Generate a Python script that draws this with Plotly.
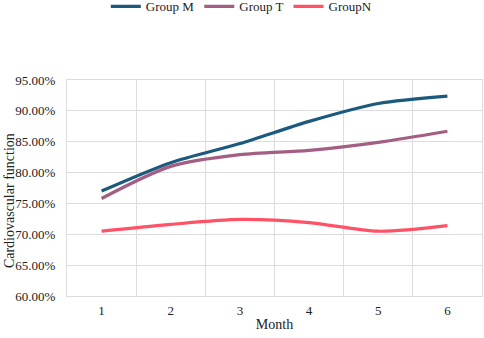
import plotly.graph_objects as go

months = ["1", "2", "3", "4", "5", "6"]
group_m = [0.770, 0.816, 0.847, 0.883, 0.912, 0.924]
group_t = [0.758, 0.810, 0.829, 0.836, 0.849, 0.867]
group_n = [0.705, 0.716, 0.724, 0.719, 0.705, 0.714]
y_ticks = [0.60, 0.65, 0.70, 0.75, 0.80, 0.85, 0.90, 0.95]

series = [
    ("Group M", group_m, "#1b5a7d"),
    ("Group T", group_t, "#a35f82"),
    ("GroupN", group_n, "#ff5266"),
]

fig = go.Figure()
for name, vals, color in series:
    fig.add_trace(go.Scatter(
        x=months, y=vals, name=name, mode="lines",
        line=dict(color=color, width=3.2, shape="spline", smoothing=0.8),
    ))

ff = "Liberation Serif, Times New Roman, serif"
fig.update_layout(
    width=484, height=338,
    margin=dict(l=67, r=2, t=80, b=42, autoexpand=False),
    paper_bgcolor="white", plot_bgcolor="white",
    font=dict(family=ff, size=13, color="#222222"),
    showlegend=True,
    legend=dict(orientation="h", x=0.42, xanchor="center", y=1.41, yref="paper",
                yanchor="top", font=dict(family=ff, size=13), itemwidth=30, tracegroupgap=0,
                bgcolor="rgba(0,0,0,0)"),
    xaxis=dict(type="category", tickson="boundaries", showgrid=True, range=[-0.5, 5.5],
               gridcolor="#dcdcdc", gridwidth=1, ticks="", showline=True, mirror=True,
               linecolor="#dcdcdc", linewidth=1,
               zeroline=False, automargin=False,
               title=dict(text="Month", standoff=2, font=dict(family=ff, size=14)),
               tickfont=dict(family=ff, size=13), ticklabelstandoff=2),
    yaxis=dict(range=[0.60, 0.95], tickvals=y_ticks, tickformat=".2%",
               showgrid=True, gridcolor="#dcdcdc", gridwidth=1, zeroline=False,
               showline=True, mirror=True, linecolor="#dcdcdc", linewidth=1,
               ticks="", ticklabelstandoff=8, automargin=False,
               tickfont=dict(family=ff, size=13)),
    annotations=[dict(text="Cardiovascular function", textangle=-90,
                      xref="paper", yref="paper", x=-0.137, y=0.44,
                      xanchor="center", yanchor="middle", showarrow=False,
                      font=dict(family=ff, size=14, color="#222222"))],
)

fig.write_html("out.html", config={"displayModeBar": False},
               post_script="document.body.style.margin='0';document.body.style.padding='0';")
